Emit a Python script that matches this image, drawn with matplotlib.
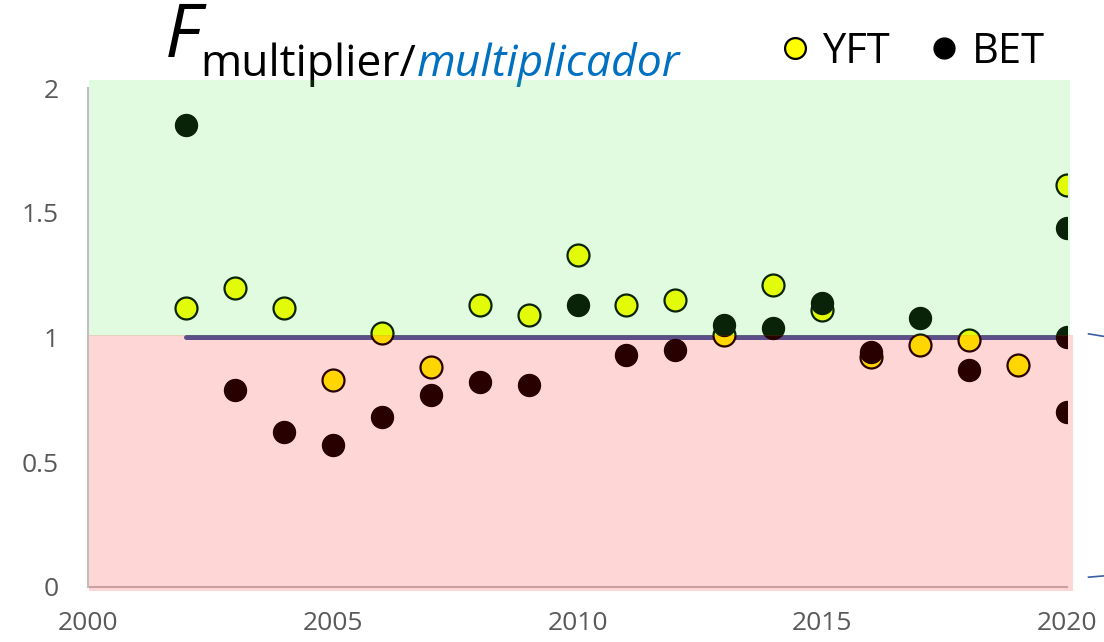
"""F multiplier scatter for YFT and BET, with green/pink status zones."""

import matplotlib.pyplot as plt
from matplotlib.lines import Line2D
from matplotlib.patches import Rectangle

# Values.
YFT_YEARS = [2002, 2003, 2004, 2005, 2006, 2007, 2008, 2009, 2010, 2011,
             2012, 2013, 2014, 2015, 2016, 2017, 2018, 2019, 2020]
YFT_F = [1.12, 1.20, 1.12, 0.83, 1.02, 0.88, 1.13, 1.09, 1.33, 1.13,
         1.15, 1.01, 1.21, 1.11, 0.92, 0.97, 0.99, 0.89, 1.61]

BET_YEARS = [2002, 2003, 2004, 2005, 2006, 2007, 2008, 2009, 2010, 2011,
             2012, 2013, 2014, 2015, 2016, 2017, 2018, 2020, 2020, 2020]
BET_F = [1.85, 0.79, 0.62, 0.57, 0.68, 0.77, 0.82, 0.81, 1.13, 0.93,
         0.95, 1.05, 1.04, 1.14, 0.94, 1.08, 0.87, 1.44, 1.00, 0.70]

REF_YEARS = [2002, 2020]
REF_F = [1.0, 1.0]

X_TICKS = [2000, 2005, 2010, 2015, 2020]
Y_TICKS = [0, 0.5, 1, 1.5, 2]
Y_LABELS = ["0", "0.5", "1", "1.5", "2"]

FONT = "Open Sans"
GREY = "#595959"

fig = plt.figure(figsize=(11.04, 6.42), dpi=100)
ax = fig.add_axes([0.0797, 0.0857, 0.8868, 0.7772])

ax.plot(REF_YEARS, REF_F, color="#3C5DA4", lw=3.6, solid_capstyle="round", zorder=2)
ax.scatter(YFT_YEARS, YFT_F, s=250, color="#FFFF00", edgecolor="black", lw=1.6, zorder=3)
ax.scatter(BET_YEARS, BET_F, s=250, color="black", edgecolor="black", lw=1.0, zorder=3)

# Translucent zones laid over the markers, as in the original.
ax.add_patch(Rectangle((2000.03, 1.005), 20.04, 1.029, facecolor=(0.255, 0.92, 0.255),
                       alpha=0.153, lw=0, zorder=5, clip_on=False))
ax.add_patch(Rectangle((2000.03, -0.016), 20.09, 1.026, facecolor=(1.0, 0.0, 0.0),
                       alpha=0.16, lw=0, zorder=5, clip_on=False))

ax.set_xlim(2000, 2020)
ax.set_ylim(0, 2)
ax.set_xticks(X_TICKS)
ax.set_yticks(Y_TICKS, Y_LABELS)
ax.tick_params(length=0, labelsize=19, labelcolor=GREY)
ax.tick_params(axis="x", pad=17)
ax.tick_params(axis="y", pad=21)
for lab in ax.get_xticklabels() + ax.get_yticklabels():
    lab.set_fontfamily(FONT)
for side in ("top", "right"):
    ax.spines[side].set_visible(False)
for side in ("left", "bottom"):
    ax.spines[side].set_color("#BFBFBF")
    ax.spines[side].set_linewidth(1.5)
ax.spines["left"].set_zorder(6)

# Title: large italic F with a subscript-like bilingual label.
t_f = fig.text(0.149, 0.911, "F", fontsize=54, style="italic", family=FONT, va="baseline")
t_m = ax.annotate("multiplier/", xy=(1.0, 0.882), xycoords=(t_f, "figure fraction"),
                  fontsize=32, family=FONT, va="baseline", ha="left",
                  annotation_clip=False)
ax.annotate("multiplicador", xy=(1.0, 0.882), xycoords=(t_m, "figure fraction"),
            fontsize=32, family=FONT, style="italic", color="#0070C0",
            va="baseline", ha="left", annotation_clip=False)

handles = [
    Line2D([], [], ls="none", marker="o", ms=15, mfc="#FFFF00", mec="black", mew=1.6),
    Line2D([], [], ls="none", marker="o", ms=15, mfc="black", mec="black"),
]
fig.legend(handles, ["YFT", "BET"], ncol=2, frameon=False, loc="center right",
           bbox_to_anchor=(0.980, 0.919), handletextpad=0.35, columnspacing=1.0,
           handlelength=0.6, prop={"family": FONT, "size": 30})

# Fragments of a cropped annotation at the right edge.
fig.add_artist(Line2D([0.986, 1.0], [0.480, 0.476], color="#3C5DA4", lw=1.2))
fig.add_artist(Line2D([0.986, 1.0], [0.101, 0.103], color="#3C5DA4", lw=1.2))

fig.savefig("out.png", dpi=100)
